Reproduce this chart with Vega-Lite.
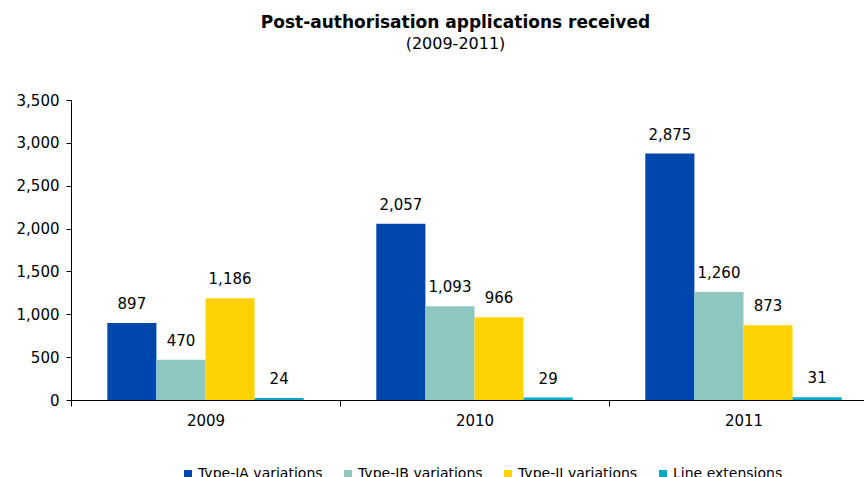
{
  "$schema": "https://vega.github.io/schema/vega-lite/v6.json",
  "width": 807,
  "height": 300,
  "autosize": {"type": "none"},
  "padding": {"left": 71, "top": 100, "right": 0, "bottom": 77},
  "background": "white",
  "title": {
    "text": "Post-authorisation applications received",
    "subtitle": "(2009-2011)",
    "font": "DejaVu Sans",
    "fontSize": 17,
    "fontWeight": "bold",
    "subtitleFont": "DejaVu Sans",
    "subtitleFontSize": 16,
    "color": "black",
    "subtitleColor": "black",
    "anchor": "middle",
    "dx": -19,
    "offset": 40,
    "subtitlePadding": 4
  },
  "config": {"view": {"stroke": null}, "font": "DejaVu Sans"},
  "data": {
    "values": [
      {"year": "2009", "type": "Type-IA variations", "value": 897},
      {"year": "2009", "type": "Type-IB variations", "value": 470},
      {"year": "2009", "type": "Type-II variations", "value": 1186},
      {"year": "2009", "type": "Line extensions", "value": 24},
      {"year": "2010", "type": "Type-IA variations", "value": 2057},
      {"year": "2010", "type": "Type-IB variations", "value": 1093},
      {"year": "2010", "type": "Type-II variations", "value": 966},
      {"year": "2010", "type": "Line extensions", "value": 29},
      {"year": "2011", "type": "Type-IA variations", "value": 2875},
      {"year": "2011", "type": "Type-IB variations", "value": 1260},
      {"year": "2011", "type": "Type-II variations", "value": 873},
      {"year": "2011", "type": "Line extensions", "value": 31}
    ]
  },
  "encoding": {
    "x": {
      "field": "year",
      "type": "nominal",
      "scale": {"paddingInner": 0.27, "paddingOuter": 0.135},
      "axis": {
        "title": null,
        "labelAngle": 0,
        "labelFontSize": 15,
        "labelColor": "black",
        "labelPadding": 7,
        "tickOffset": -134.5,
        "labelOffset": 134.5,
        "tickSize": 6,
        "tickColor": "black",
        "domainColor": "black",
        "grid": false
      }
    },
    "xOffset": {
      "field": "type",
      "type": "nominal",
      "sort": ["Type-IA variations", "Type-IB variations", "Type-II variations", "Line extensions"],
      "scale": {"paddingInner": 0, "paddingOuter": 0}
    },
    "y": {
      "field": "value",
      "type": "quantitative",
      "scale": {"domain": [0, 3500], "nice": false},
      "axis": {
        "title": null,
        "values": [0, 500, 1000, 1500, 2000, 2500, 3000, 3500],
        "format": ",.0f",
        "labelFontSize": 15,
        "labelColor": "black",
        "labelPadding": 7,
        "tickSize": 5,
        "tickColor": "black",
        "domainColor": "black",
        "grid": false
      }
    }
  },
  "layer": [
    {
      "mark": {"type": "bar"},
      "encoding": {
        "color": {
          "field": "type",
          "type": "nominal",
          "sort": ["Type-IA variations", "Type-IB variations", "Type-II variations", "Line extensions"],
          "scale": {
            "domain": ["Type-IA variations", "Type-IB variations", "Type-II variations", "Line extensions"],
            "range": ["#0047AB", "#8EC7C0", "#FFD200", "#00A8CC"]
          },
          "legend": {
            "title": null,
            "orient": "none",
            "legendX": 110,
            "legendY": 367,
            "direction": "horizontal",
            "symbolType": "square",
            "symbolSize": 64,
            "symbolStrokeWidth": 0,
            "labelFontSize": 14,
            "labelColor": "black",
            "labelOffset": 3,
            "columnPadding": 18
          }
        }
      }
    },
    {
      "mark": {"type": "text", "dy": -14, "baseline": "alphabetic", "align": "center", "fontSize": 15, "color": "black"},
      "encoding": {
        "text": {"field": "value", "type": "quantitative", "format": ","}
      }
    }
  ]
}
